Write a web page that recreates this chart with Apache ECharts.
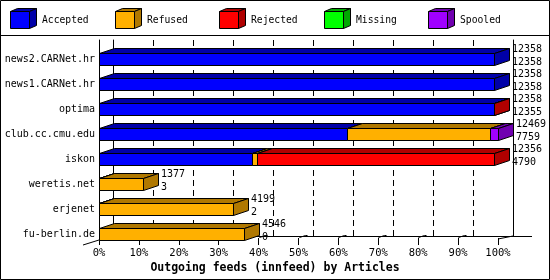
<!DOCTYPE html>
<html><head><meta charset="utf-8">
<script src="https://cdn.jsdelivr.net/npm/echarts@6/dist/echarts.min.js"></script>
<style>html,body{margin:0;padding:0;background:#fff}#c{width:550px;height:280px}</style>
</head><body><div id="c"></div>
<script>
const categories = ['news2.CARNet.hr','news1.CARNet.hr','optima','club.cc.cmu.edu','iskon','weretis.net','erjenet','fu-berlin.de'];
const offered  = [12358,12358,12358,12469,12356,1377,4199,4546];
const accepted = [12358,12358,12355,7759,4790,3,2,0];
const refused  = [0,0,0,4455,156,1374,4197,4546];
const rejected = [0,0,3,0,7410,0,0,0];
const missing  = [0,0,0,0,0,0,0,0];
const spooled  = [0,0,0,255,0,0,0,0];
const statusNames = ['Accepted','Refused','Rejected','Missing','Spooled'];
const tickValues = [0,10,20,30,40,50,60,70,80,90,100];
const title = 'Outgoing feeds (innfeed) by Articles';

const frontColors = ['#0000ff','#ffb000','#ff0000','#00ff00','#a000ff'];
const sideColors  = ['#0000a8','#b07800','#b00000','#00a800','#7000b0'];
const MONO = '"DejaVu Sans Mono", monospace';
const D = 15, H = 5;

const statusValues = [accepted, refused, rejected, missing, spooled];
const maxOffered = Math.max(...offered);
const pct = v => v / maxOffered * 100;

const segData = statusValues.map(() => []);
categories.forEach((c, i) => {
  let cum = 0;
  statusValues.forEach((arr, s) => {
    const v = arr[i];
    if (v > 0) segData[s].push([pct(cum), pct(cum + v), i]);
    cum += v;
  });
});

function boxRender(sIdx) {
  return function (params, api) {
    const cat = api.value(2);
    const p0 = api.coord([api.value(0), cat]);
    const p1 = api.coord([api.value(1), cat]);
    const x0 = Math.round(p0[0]) + 0.5, x1 = Math.round(p1[0]) + 0.5;
    const yT = Math.round(p0[1] - 6) + 0.5, yB = yT + 12;
    const st = f => ({ fill: f, stroke: '#000', lineWidth: 1 });
    return { type: 'group', children: [
      { type: 'polygon', shape: { points: [[x0,yT],[x0+D,yT-H],[x1+D,yT-H],[x1,yT]] }, style: st(sideColors[sIdx]) },
      { type: 'polygon', shape: { points: [[x1,yT],[x1+D,yT-H],[x1+D,yB-H],[x1,yB]] }, style: st(sideColors[sIdx]) },
      { type: 'polygon', shape: { points: [[x0,yT],[x1,yT],[x1,yB],[x0,yB]] }, style: st(frontColors[sIdx]) }
    ]};
  };
}

const series = [];
// small 3D tick connectors on the floor (drawn beneath bars)
series.push({
  name: 'tickdeco', type: 'custom', coordinateSystem: 'cartesian2d', xAxisIndex: 2, yAxisIndex: 3,
  encode: { x: 0, y: 1 }, data: tickValues.slice(1, -1).map(v => [v, 0]), silent: true, z: 1,
  renderItem: function (params, api) {
    const p = api.coord([api.value(0), 0]);
    const x = Math.round(p[0]) + 0.5, y = Math.round(p[1]);
    return { type: 'group', children: [
      { type: 'line', shape: { x1: x, y1: y - 0.5, x2: x + 6, y2: y - 2.5 }, style: { stroke: '#000', lineWidth: 1 } },
      { type: 'rect', shape: { x: x + 6, y: y - 3, width: 2, height: 2 }, style: { fill: '#000' } }
    ]};
  }
});
statusNames.forEach((n, s) => series.push({
  name: n, type: 'custom', coordinateSystem: 'cartesian2d', xAxisIndex: 0, yAxisIndex: 0,
  renderItem: boxRender(s), encode: { x: [0, 1], y: 2 }, data: segData[s], silent: true, z: 3
}));

series.push({
  name: 'labels', type: 'custom', coordinateSystem: 'cartesian2d', xAxisIndex: 0, yAxisIndex: 0,
  encode: { x: 0, y: 1 },
  data: categories.map((c, i) => [pct(offered[i]), i, offered[i], accepted[i]]),
  renderItem: function (params, api) {
    const p = api.coord([api.value(0), api.value(1)]);
    const x = Math.round(p[0]) + D + 3;
    const c = Math.round(p[1]);
    const font = '10px ' + MONO;
    return { type: 'group', children: [
      { type: 'text', style: { text: String(api.value(2)), x: x, y: c - 10, font: font, fill: '#000', verticalAlign: 'middle', align: 'left' } },
      { type: 'text', style: { text: String(api.value(3)), x: x, y: c + 3, font: font, fill: '#000', verticalAlign: 'middle', align: 'left' } }
    ]};
  }, silent: true, z: 5
});

const legendEls = [];
statusNames.forEach((n, s) => {
  const lx = 10 + Math.round(s * 104.5), ly = 11;
  legendEls.push({ type: 'polygon', shape: { points: [[lx+0.5,ly+0.5],[lx+7.5,ly-2.5],[lx+26.5,ly-2.5],[lx+19.5,ly+0.5]] }, style: { fill: sideColors[s], stroke: '#000', lineWidth: 1 } });
  legendEls.push({ type: 'polygon', shape: { points: [[lx+19.5,ly+0.5],[lx+26.5,ly-2.5],[lx+26.5,ly+14.5],[lx+19.5,ly+17.5]] }, style: { fill: sideColors[s], stroke: '#000', lineWidth: 1 } });
  legendEls.push({ type: 'rect', shape: { x: lx + 0.5, y: ly + 0.5, width: 19, height: 17 }, style: { fill: frontColors[s], stroke: '#000', lineWidth: 1 } });
  legendEls.push({ type: 'text', style: { text: n, x: lx + 32, y: 20, font: '9.7px ' + MONO, fill: '#000', verticalAlign: 'middle' } });
});

const chart = echarts.init(document.getElementById('c'), null, { renderer: 'canvas' });
chart.setOption({
  animation: false,
  backgroundColor: '#fff',
  title: { text: title, left: 'center', top: 262, padding: 0,
    textStyle: { fontFamily: MONO, fontSize: 11.5, fontWeight: 'bold', color: '#000' } },
  grid: [
    { left: 99, right: 52, top: 46.5, height: 200 },
    { left: 113, right: 37, top: 40, bottom: 44 },
    { left: 99, right: 52, top: 40, bottom: 42 }
  ],
  xAxis: [
    { gridIndex: 0, type: 'value', min: 0, max: 100, show: false },
    { gridIndex: 1, type: 'value', min: 0, max: 100, interval: 10,
      axisLine: { show: true, lineStyle: { color: '#000', width: 1 } }, axisTick: { show: false }, axisLabel: { show: false },
      splitLine: { show: true, lineStyle: { color: '#000', width: 1, type: [6, 4] } } },
    { gridIndex: 2, type: 'value', min: 0, max: 100, interval: 10,
      axisLine: { show: false }, splitLine: { show: false },
      axisTick: { show: true, length: 7, lineStyle: { color: '#000' } },
      axisLabel: { formatter: v => tickValues.includes(v) ? v + '%' : '', margin: 10, fontFamily: MONO, fontSize: 10.5, color: '#000' } }
  ],
  yAxis: [
    { gridIndex: 0, type: 'category', data: categories, inverse: true,
      axisLine: { show: false }, axisTick: { show: false }, splitLine: { show: false },
      axisLabel: { fontFamily: MONO, fontSize: 10, color: '#000', margin: 4 } },
    { gridIndex: 1, type: 'value', min: 0, max: 1, position: 'left',
      axisLine: { show: true, lineStyle: { color: '#000' } }, axisTick: { show: false }, axisLabel: { show: false }, splitLine: { show: false } },
    { gridIndex: 1, type: 'value', min: 0, max: 1, position: 'right',
      axisLine: { show: true, lineStyle: { color: '#000' } }, axisTick: { show: false }, axisLabel: { show: false }, splitLine: { show: false } },
    { gridIndex: 2, type: 'value', min: 0, max: 1,
      axisLine: { show: true, lineStyle: { color: '#000' } }, axisTick: { show: false }, axisLabel: { show: false }, splitLine: { show: false } }
  ],
  graphic: [
    { type: 'rect', shape: { x: 0.5, y: 0.5, width: 549, height: 279 }, style: { fill: 'none', stroke: '#000', lineWidth: 1 }, z: 10 },
    { type: 'line', shape: { x1: 0, y1: 35.5, x2: 550, y2: 35.5 }, style: { stroke: '#000', lineWidth: 1 } },
    { type: 'line', shape: { x1: 513, y1: 236.5, x2: 532, y2: 236.5 }, style: { stroke: '#000', lineWidth: 1 } },
    { type: 'line', shape: { x1: 83, y1: 245, x2: 99, y2: 240 }, style: { stroke: '#000', lineWidth: 1 } },
    { type: 'line', shape: { x1: 513, y1: 236, x2: 498, y2: 239 }, style: { stroke: '#000', lineWidth: 1 } },
    ...legendEls
  ],
  series: series
});
</script></body></html>
